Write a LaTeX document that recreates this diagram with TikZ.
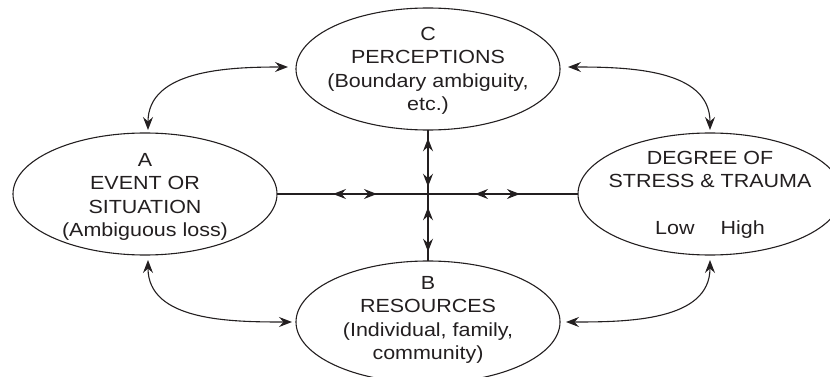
\documentclass[tikz,border=0pt]{standalone}
\usepackage{fontspec}
\setmainfont[FakeStretch=1.13]{Liberation Sans}
\usetikzlibrary{shapes.geometric,arrows.meta,calc}
\definecolor{ink}{HTML}{231F20}
\tikzset{
  ell/.style={draw=ink, line width=1.1pt, ellipse, minimum width=264pt, minimum height=122pt, inner sep=0pt, outer sep=0pt},
  txt/.style={text=ink, align=center, font=\fontsize{19pt}{23.5pt}\selectfont, inner sep=0pt},
  conn/.style={draw=ink, line width=1.1pt},
  tip/.style={conn, {Stealth[length=13pt,width=10pt,inset=4.5pt]}-{Stealth[length=13pt,width=10pt,inset=4.5pt]}}
}
\begin{document}
\begin{tikzpicture}[x=1pt,y=-1pt]
\clip (0,0) rectangle (830,377);
\node[ell] (A) at (145,194) {};
\node[ell] (C) at (428,69) {};
\node[ell] (B) at (428,322) {};
\node[ell] (D) at (710,194) {};
\node[txt] (tA) at (145,197) {A\\EVENT OR\\SITUATION\\(Ambiguous loss)};
\node[txt] (tC) at (428,71) {C\\PERCEPTIONS\\(Boundary ambiguity,\\etc.)};
\node[txt] (tB) at (428,320) {B\\RESOURCES\\(Individual, family,\\community)};
\node[txt] (tD) at (710,195) {DEGREE OF\\STRESS \& TRAUMA\\[23.5pt]Low\hspace{26pt}High};
% central cross
\draw[conn] (A.east) -- (D.west);
\draw[conn] (C.south) -- (B.north);
\draw[tip] ($(A.east)!0.186!(D.west)$) -- ($(A.east)!0.332!(D.west)$);
\draw[tip] ($(A.east)!0.658!(D.west)$) -- ($(A.east)!0.807!(D.west)$);
\draw[tip] ($(C.south)!0.063!(B.north)$) -- ($(C.south)!0.433!(B.north)$);
\draw[tip] ($(C.south)!0.59!(B.north)$) -- ($(C.south)!0.929!(B.north)$);
% corner curves
\draw[tip] ([xshift=3pt,yshift=3pt]A.north) to[out=90,in=180] ([xshift=-8pt,yshift=2pt]C.west);
\draw[tip] ([yshift=3pt]D.north) to[out=90,in=0] ([xshift=8pt,yshift=2pt]C.east);
\draw[tip] ([xshift=3pt,yshift=-5pt]A.south) to[out=-90,in=180] ([xshift=-4pt]B.west);
\draw[tip] ([yshift=-5pt]D.south) to[out=-90,in=0] ([xshift=6pt]B.east);
\end{tikzpicture}
\end{document}
